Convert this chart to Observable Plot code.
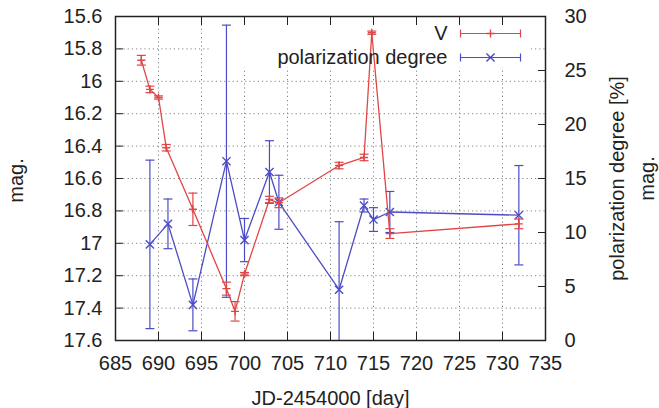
<!DOCTYPE html>
<html><head><meta charset="utf-8">
<script src="https://cdn.jsdelivr.net/npm/d3@7"></script>
<script src="https://cdn.jsdelivr.net/npm/@observablehq/plot@0.6"></script>
<style>body{margin:0;background:#fff}</style>
</head><body><div id="chart"></div>
<script>
// ---- data ----
const vDays = [688.0, 689.0, 690.0, 690.9, 694.0, 697.9, 698.9, 700.0, 702.9, 704.0, 711.0, 713.9, 714.8, 716.9, 731.9];
const vMag  = [15.87, 16.05, 16.10, 16.41, 16.79, 17.28, 17.42, 17.19, 16.73, 16.75, 16.52, 16.47, 15.70, 16.94, 16.88];
const vErr  = [0.03, 0.02, 0.01, 0.02, 0.10, 0.04, 0.06, 0.01, 0.02, 0.03, 0.02, 0.02, 0.01, 0.03, 0.03];

const pDays = [689.0, 691.1, 694.0, 697.9, 700.0, 702.9, 704.0, 711.0, 713.9, 715.0, 716.9, 731.9];
const pDeg  = [8.9, 10.8, 3.3, 16.6, 9.3, 15.6, 12.8, 4.7, 12.5, 11.2, 11.9, 11.6];
const pErr  = [7.8, 2.3, 2.4, 12.6, 2.0, 2.9, 2.5, 6.3, 0.6, 1.1, 1.9, 4.6];

const dayTicks = [685, 690, 695, 700, 705, 710, 715, 720, 725, 730, 735];
const magTicks = [15.6, 15.8, 16.0, 16.2, 16.4, 16.6, 16.8, 17.0, 17.2, 17.4, 17.6];
const polTicks = [0, 5, 10, 15, 20, 25, 30];

const seriesNames = ["V", "polarization degree"];

// ---- mapping of the right axis onto the left (mag) scale ----
const MAG_MIN = 15.6, MAG_MAX = 17.6, POL_MAX = 30;
const pol2mag = p => MAG_MAX - p * (MAG_MAX - MAG_MIN) / POL_MAX;
const mag2pol = m => (MAG_MAX - m) * POL_MAX / (MAG_MAX - MAG_MIN);

const vData = vDays.map((d, i) => ({day: d, y: vMag[i], lo: vMag[i] - vErr[i], hi: vMag[i] + vErr[i]}));
const pData = pDays.map((d, i) => ({day: d, y: pol2mag(pDeg[i]), lo: pol2mag(pDeg[i] - pErr[i]), hi: pol2mag(pDeg[i] + pErr[i])}));

const RED = "#e04646", BLUE = "#4c4cc6", INK = "#222";
const cap = w => ({draw(ctx) { ctx.moveTo(-w, 0); ctx.lineTo(w, 0); }});
const keySym = {draw(ctx) {
  ctx.moveTo(-30, 0); ctx.lineTo(30, 0);
  ctx.moveTo(-30, -4); ctx.lineTo(-30, 4);
  ctx.moveTo(30, -4); ctx.lineTo(30, 4);
}};
const maskSym = {draw(ctx) { ctx.rect(-160, -25.5, 320, 51); }};

const errMarks = (data, color) => [
  Plot.ruleX(data, {x: "day", y1: "lo", y2: "hi", stroke: color, strokeWidth: 1.2, clip: true}),
  Plot.dot(data, {x: "day", y: "lo", symbol: cap(4.5), fill: "none", stroke: color, strokeWidth: 1.2, clip: true}),
  Plot.dot(data, {x: "day", y: "hi", symbol: cap(4.5), fill: "none", stroke: color, strokeWidth: 1.2, clip: true})
];

const chart = Plot.plot({
  width: 659, height: 408,
  marginLeft: 115, marginRight: 114, marginTop: 16, marginBottom: 68,
  style: {fontFamily: "'Liberation Sans', Arial, sans-serif", fontSize: "20px", color: INK, background: "#fff"},
  x: {domain: [685, 735]},
  y: {domain: [MAG_MIN, MAG_MAX], reverse: true},
  marks: [
    Plot.gridX(dayTicks, {stroke: "#777", strokeOpacity: 0.9, strokeDasharray: "1.2,3"}),
    Plot.gridY(magTicks, {stroke: "#777", strokeOpacity: 0.9, strokeDasharray: "1.2,3"}),
    // opaque key box
    Plot.dot([0], {frameAnchor: "top-right", dx: -175, dy: 25.5, symbol: maskSym, fill: "#fff", stroke: "none"}),
    // polarization degree
    ...errMarks(pData, BLUE),
    Plot.line(pData, {x: "day", y: "y", stroke: BLUE, strokeWidth: 1.3}),
    Plot.dot(pData, {x: "day", y: "y", symbol: "times", r: 3.8, stroke: BLUE, strokeWidth: 1.4}),
    // V magnitude
    ...errMarks(vData, RED),
    Plot.line(vData, {x: "day", y: "y", stroke: RED, strokeWidth: 1.3}),
    Plot.dot(vData, {x: "day", y: "y", symbol: "plus", r: 2.7, stroke: RED, strokeWidth: 1.4}),
    // axes
    Plot.axisX(dayTicks, {anchor: "bottom", tickSize: -8, tickPadding: 23, label: null, tickFormat: d => String(d)}),
    Plot.axisX(dayTicks, {anchor: "top", tickSize: -8, label: null, tickFormat: () => ""}),
    Plot.axisY(magTicks, {anchor: "left", tickSize: -8, tickPadding: 21, label: null, tickFormat: d => String(+d.toFixed(1))}),
    Plot.axisY(polTicks.map(pol2mag), {anchor: "right", tickSize: -8, tickPadding: 27, label: null, textAnchor: "start",
      tickFormat: d => String(Math.round(mag2pol(d)))}),
    Plot.frame({stroke: INK, strokeWidth: 1.5}),
    // axis titles
    Plot.text(["mag."], {frameAnchor: "left", dx: -99, dy: 2, rotate: -90, textAnchor: "middle", lineAnchor: "middle"}),
    Plot.text(["polarization degree [%]"], {frameAnchor: "right", dx: 72, rotate: -90, textAnchor: "middle", lineAnchor: "middle"}),
    Plot.text(["mag."], {frameAnchor: "right", dx: 102, rotate: -90, textAnchor: "middle", lineAnchor: "middle"}),
    Plot.text(["JD-2454000 [day]"], {frameAnchor: "bottom", dy: 58, textAnchor: "middle", lineAnchor: "middle"}),
    // key
    Plot.text([seriesNames[0]], {frameAnchor: "top-right", dx: -98, dy: 17, textAnchor: "end", lineAnchor: "middle"}),
    Plot.dot([0], {frameAnchor: "top-right", dx: -55, dy: 17, symbol: keySym, fill: "none", stroke: RED, strokeWidth: 1.2}),
    Plot.dot([0], {frameAnchor: "top-right", dx: -55, dy: 17, symbol: "plus", r: 2.7, stroke: RED, strokeWidth: 1.4}),
    Plot.text([seriesNames[1]], {frameAnchor: "top-right", dx: -98, dy: 41, textAnchor: "end", lineAnchor: "middle"}),
    Plot.dot([0], {frameAnchor: "top-right", dx: -55, dy: 41, symbol: keySym, fill: "none", stroke: BLUE, strokeWidth: 1.2}),
    Plot.dot([0], {frameAnchor: "top-right", dx: -55, dy: 41, symbol: "times", r: 3.8, stroke: BLUE, strokeWidth: 1.4})
  ]
});
document.getElementById("chart").appendChild(chart);
</script>
</body></html>
